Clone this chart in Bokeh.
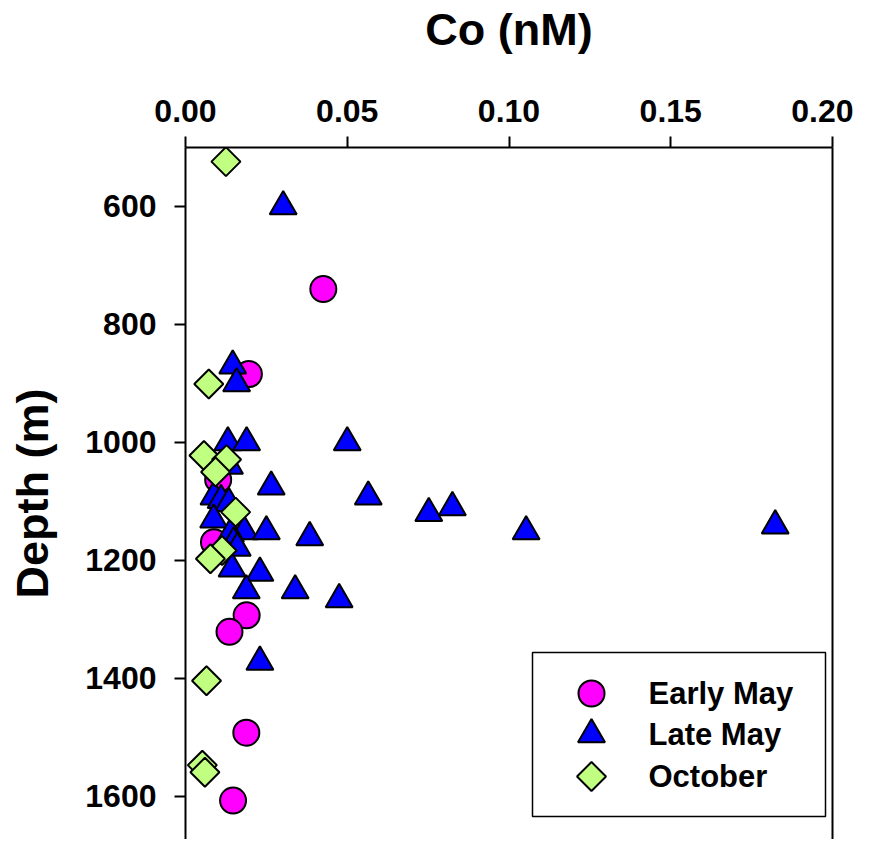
import math
from bokeh.plotting import figure
from bokeh.models import LinearAxis, FixedTicker, NumeralTickFormatter, Range1d
from bokeh.core.properties import value
from bokeh.embed import file_html
from bokeh.resources import INLINE

# ---- data ----
early_co = [0.0426, 0.0196, 0.0101, 0.0088, 0.0189, 0.0136, 0.0188, 0.0147]
early_depth = [740, 884, 1063, 1169, 1293, 1321, 1492, 1607]

late_co = [0.0302, 0.0146, 0.0158, 0.0131, 0.0189, 0.0500, 0.0136, 0.0265,
           0.0565, 0.0088, 0.0110, 0.0134, 0.0825, 0.0752, 0.0087, 0.0182,
           0.0250, 0.1053, 0.1823, 0.0139, 0.0384, 0.0149, 0.0160, 0.0144,
           0.0230, 0.0188, 0.0339, 0.0475, 0.0230]
late_depth = [600, 870, 900, 1000, 1000, 1000, 1040, 1075,
              1092, 1092, 1098, 1103, 1110, 1120, 1131, 1151,
              1151, 1151, 1141, 1155, 1161, 1170, 1179, 1214,
              1221, 1251, 1251, 1266, 1372]

oct_co = [0.0125, 0.0072, 0.0057, 0.0127, 0.0093, 0.0155, 0.0113, 0.0077,
          0.0065, 0.0052, 0.0060]
oct_depth = [524, 901, 1022, 1029, 1050, 1118, 1183, 1197, 1404, 1547, 1559]

x_ticks = [0.0, 0.05, 0.10, 0.15, 0.20]
y_ticks = [600, 800, 1000, 1200, 1400, 1600]
series_labels = ["Early May", "Late May", "October"]

FONT = "Liberation Sans"
FRAME_W, FRAME_H = 647, 692

p = figure(width=853, height=839, output_backend="svg", toolbar_location=None,
           x_range=Range1d(0, 0.2), y_range=Range1d(1673, 500),
           x_axis_location="above",
           min_border_left=185, min_border_right=21, min_border_top=147,
           min_border_bottom=0)
p.grid.visible = False
p.outline_line_color = None
p.background_fill_color = "white"
p.border_fill_color = "white"

xa = p.xaxis[0]
xa.ticker = FixedTicker(ticks=x_ticks)
xa.formatter = NumeralTickFormatter(format="0.00")
xa.axis_label = "Co (nM)"
ya = p.yaxis[0]
ya.ticker = FixedTicker(ticks=y_ticks)
ya.axis_label = "Depth (m)"

for ax in (xa, ya):
    ax.axis_line_width = 2
    ax.major_tick_line_width = 2
    ax.major_tick_in = 0
    ax.major_tick_out = 11
    ax.minor_tick_line_color = None
    ax.major_label_text_font = FONT
    ax.major_label_text_font_style = "bold"
    ax.major_label_text_font_size = "32px"
    ax.axis_label_text_font = FONT
    ax.axis_label_text_font_style = "bold"
    ax.axis_label_text_font_size = "45px"
    ax.axis_label_text_color = "black"
    ax.major_label_text_color = "black"
xa.major_label_standoff = 15
xa.axis_label_standoff = 42
ya.major_label_standoff = 18
ya.axis_label_standoff = 24

ra = LinearAxis(ticker=FixedTicker(ticks=[]), major_label_text_font_size="0px",
                axis_line_width=2, major_tick_line_color=None,
                minor_tick_line_color=None)
p.add_layout(ra, "right")

circle_style = dict(marker="circle", size=26, fill_color="#FF00FF",
                    line_color="black", line_width=2)
tri_style = dict(marker="triangle", size=27, fill_color="#0000FF",
                 line_color="black", line_width=2)
dia_style = dict(marker="square", angle=math.pi / 4, size=20.5,
                 fill_color="#C0FF80", line_color="black", line_width=2)

p.scatter(early_co, early_depth, **circle_style)
p.scatter(late_co, late_depth, **tri_style)
p.scatter(oct_co, oct_depth, **dia_style)

# ---- legend, laid out in frame pixels (x right, y down from frame top) ----
p.extra_x_ranges = {"px": Range1d(0, FRAME_W)}
p.extra_y_ranges = {"py": Range1d(FRAME_H, 0)}
px = dict(x_range_name="px", y_range_name="py")

p.quad(left=[347], right=[640], top=[505], bottom=[669], fill_color="white",
       line_color="black", line_width=1.5, **px)
key_x = 406
rows_y = [546, 587, 629]
p.scatter([key_x], [rows_y[0]], **circle_style, **px)
p.scatter([key_x], [rows_y[1]], **tri_style, **px)
p.scatter([key_x], [rows_y[2]], **dia_style, **px)
p.text(x=[463] * 3, y=rows_y, text=series_labels, text_font=value(FONT),
       text_font_style="bold", text_font_size="31px", text_color="black",
       text_align="left", text_baseline="middle", **px)

open("out.html", "w").write(file_html(p, INLINE))
